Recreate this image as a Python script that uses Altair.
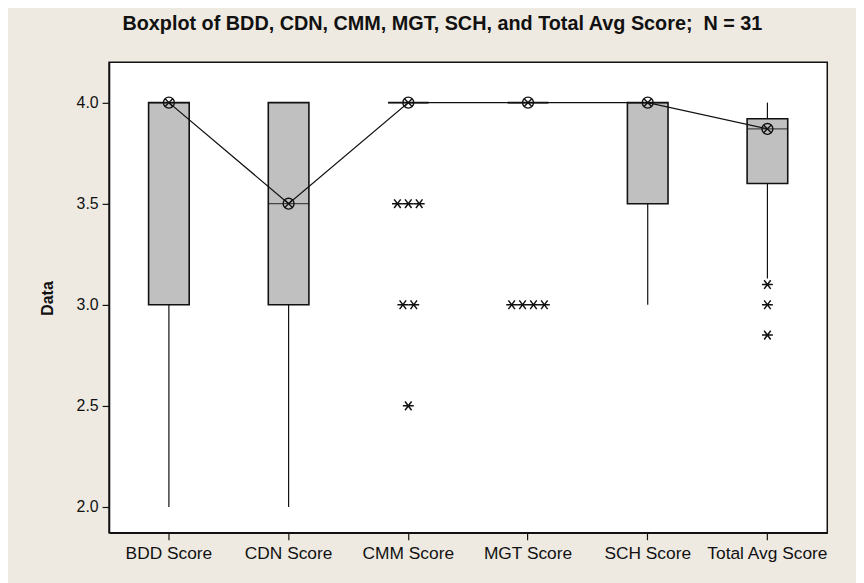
import altair as alt
import pandas as pd

categories = ["BDD Score", "CDN Score", "CMM Score", "MGT Score", "SCH Score", "Total Avg Score"]
q1 = [3.0, 3.0, 4.0, 4.0, 3.5, 3.60]
median = [4.0, 3.5, 4.0, 4.0, 4.0, 3.87]
q3 = [4.0, 4.0, 4.0, 4.0, 4.0, 3.92]
whisker_low = [2.0, 2.0, 4.0, 4.0, 3.0, 3.13]
whisker_high = [4.0, 4.0, 4.0, 4.0, 4.0, 4.0]

outlier_cat = ["CMM Score"] * 6 + ["MGT Score"] * 4 + ["Total Avg Score"] * 3
outlier_val = [3.5, 3.5, 3.5, 3.0, 3.0, 2.5, 3.0, 3.0, 3.0, 3.0, 3.10, 3.00, 2.85]

y_ticks = [2.0, 2.5, 3.0, 3.5, 4.0]

box_df = pd.DataFrame({"cat": categories, "q1": q1, "med": median, "q3": q3,
                       "lo": whisker_low, "hi": whisker_high})
out_df = pd.DataFrame({"cat": outlier_cat, "val": outlier_val})

FONT = "Liberation Sans"
INK = "#111111"

x_enc = alt.X("cat:N", sort=categories,
              scale=alt.Scale(domain=categories, paddingInner=0, paddingOuter=0),
              axis=alt.Axis(title=None, labelAngle=0, labelFontSize=17.5, labelFont=FONT,
                            labelColor=INK, tickSize=7, tickColor=INK, tickWidth=1.2,
                            labelPadding=5, domainColor=INK, domainWidth=1.5))
y_scale = alt.Scale(domain=[1.872, 4.2], nice=False, zero=False)
y_axis = alt.Axis(values=y_ticks, format=".1f", title="Data", grid=False,
                  labelFontSize=16, labelFont=FONT, labelColor=INK, labelPadding=4,
                  tickSize=7, tickColor=INK, tickWidth=1.2, domainColor=INK, domainWidth=1.5,
                  titleFont=FONT, titleFontSize=16, titleFontWeight="bold", titleColor=INK,
                  titleX=-57, titleY=238, titleAngle=-90, titleAlign="center",
                  titleBaseline="alphabetic")

base = alt.Chart(box_df)

wlo = base.mark_rule(color=INK, strokeWidth=1.2).encode(
    x=x_enc, y=alt.Y("lo:Q", scale=y_scale, axis=y_axis), y2="q1:Q")
whi = base.mark_rule(color=INK, strokeWidth=1.2).encode(
    x=x_enc, y=alt.Y("q3:Q", scale=y_scale, axis=y_axis), y2="hi:Q")
box = base.mark_bar(width=41, fill="#C0C0C0", stroke=INK, strokeWidth=1.6).encode(
    x=x_enc, y=alt.Y("q1:Q", scale=y_scale, axis=y_axis), y2="q3:Q")
med_tick = base.mark_tick(size=41, thickness=1.3, color=INK).encode(
    x=x_enc, y=alt.Y("med:Q", scale=y_scale, axis=y_axis))
med_line = base.mark_line(color=INK, strokeWidth=1.3).encode(
    x=x_enc, y=alt.Y("med:Q", scale=y_scale, axis=y_axis))
med_circle = base.mark_point(shape="circle", size=121, filled=False, stroke=INK,
                             strokeWidth=1.4, opacity=1).encode(
    x=x_enc, y=alt.Y("med:Q", scale=y_scale, axis=y_axis))
med_x = base.mark_point(shape="M-0.7,-0.7L0.7,0.7M-0.7,0.7L0.7,-0.7", size=121,
                        filled=False, stroke=INK, strokeWidth=1.4, opacity=1).encode(
    x=x_enc, y=alt.Y("med:Q", scale=y_scale, axis=y_axis))

outl = alt.Chart(out_df).transform_window(
    rank="row_number()", groupby=["cat", "val"]
).transform_joinaggregate(
    n="count()", groupby=["cat", "val"]
).transform_calculate(
    k="datum.rank - 1 - (datum.n - 1) / 2"
).mark_point(shape="M-1,0L1,0M-0.6,-0.8L0.6,0.8M-0.6,0.8L0.6,-0.8", size=121,
             filled=False, stroke=INK, strokeWidth=1.5, opacity=1).encode(
    x=x_enc,
    xOffset=alt.XOffset("k:Q", scale=alt.Scale(domain=[-2, 2], range=[38.42, 82.42])),
    y=alt.Y("val:Q", scale=y_scale, axis=y_axis))

chart = alt.layer(wlo, whi, box, med_tick, med_line, med_circle, med_x, outl).properties(
    width=725, height=475,
    autosize=alt.AutoSizeParams(type="none"),
    padding={"left": 102, "top": 52, "right": 29, "bottom": 48},
    background="#EEEAE1",
    title=alt.TitleParams(
        "Boxplot of BDD, CDN, CMM, MGT, SCH, and Total Avg Score;\u00a0\u00a0N = 31",
        font=FONT, fontSize=20, fontWeight="bold", color=INK,
        anchor="middle", dx=-26, offset=29),
).configure_view(fill="white", stroke=INK, strokeWidth=1.5)

chart.save("out.html", embed_options={"renderer": "svg", "actions": False})
